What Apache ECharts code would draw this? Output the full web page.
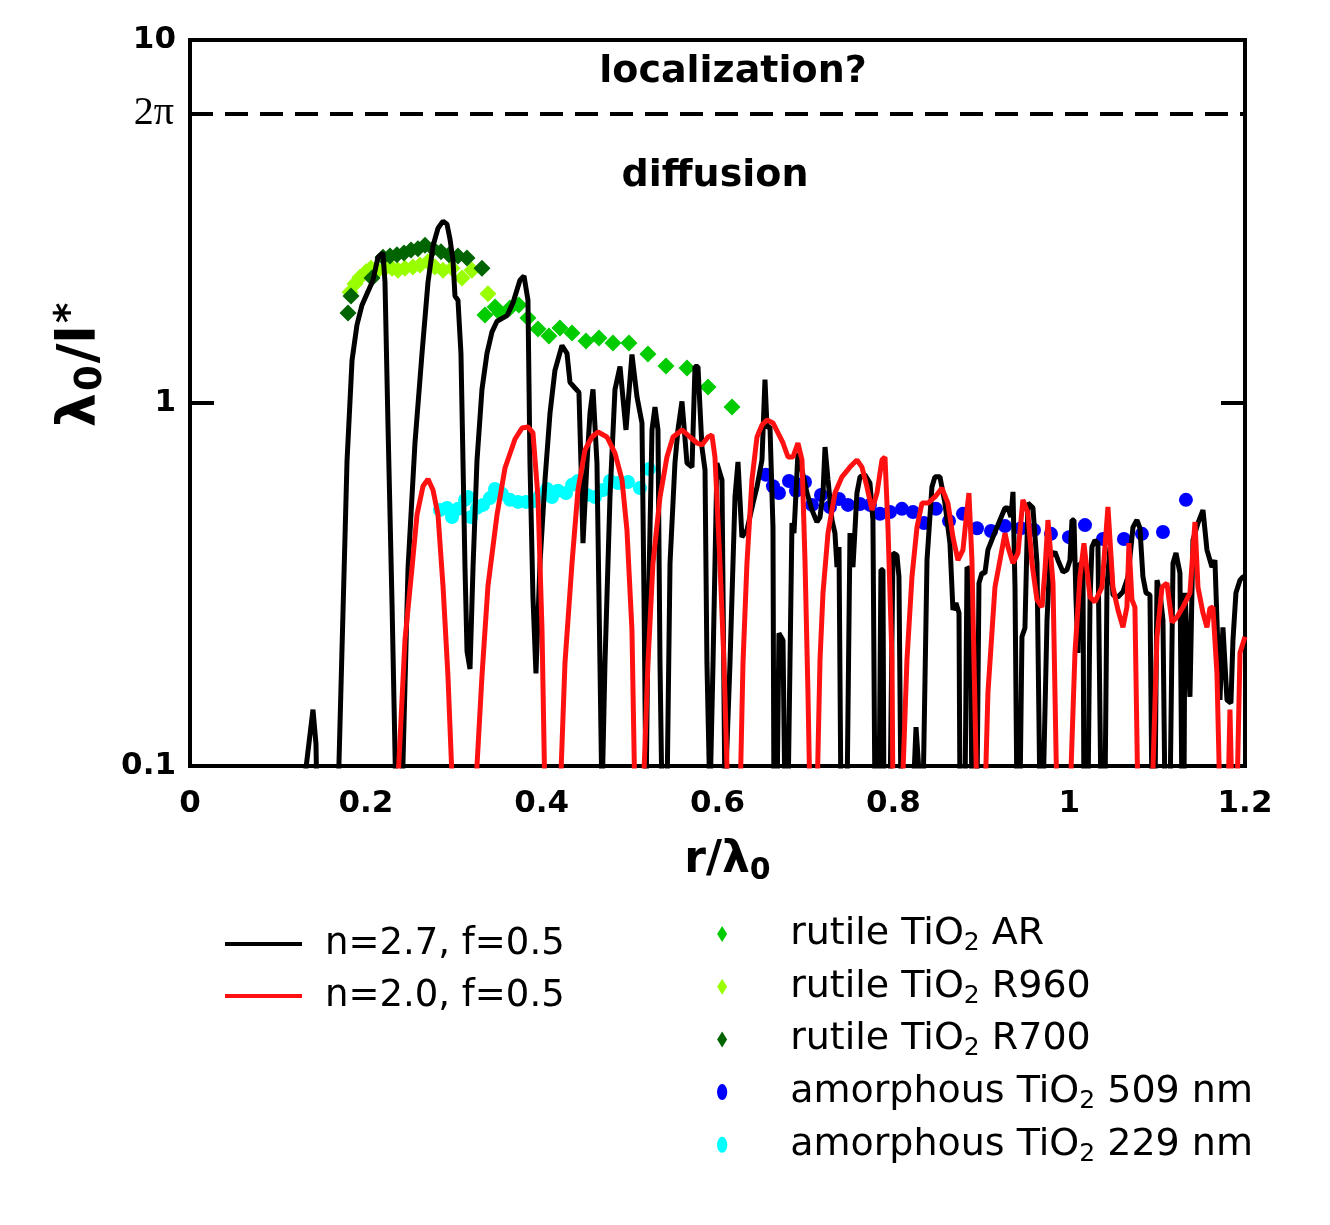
<!DOCTYPE html>
<html>
<head>
<meta charset="utf-8">
<script src="https://cdn.jsdelivr.net/npm/echarts@6/dist/echarts.min.js"></script>
<style>html,body{margin:0;padding:0;background:#fff}#c{width:1330px;height:1225px}</style>
</head>
<body>
<div id="c"></div>
<script>
// ---- data (x = r/lambda0, y = lambda0/l*) ; 0.08 = below the 0.1 axis floor ----
const xTicks = [0, 0.2, 0.4, 0.6, 0.8, 1, 1.2];
const yTicks = [0.1, 1, 10];
const twoPi = 2 * Math.PI;

const n27 = [[0,0.08],[0.1274,0.08],[0.1399,0.143],[0.1433,0.115],[0.1444,0.08],[0.1683,0.08],[0.1786,0.692],[0.1843,1.31],[0.1899,1.64],[0.1956,1.86],[0.2025,2.03],[0.2081,2.18],[0.2138,2.52],[0.2195,2.59],[0.2218,2.15],[0.2252,0.870],[0.2298,0.280],[0.2343,0.08],[0.2411,0.08],[0.2480,0.351],[0.2559,0.776],[0.2639,1.37],[0.2707,2.15],[0.2764,2.71],[0.2821,3.03],[0.2878,3.17],[0.2923,3.11],[0.2957,2.83],[0.2991,2.48],[0.3014,1.97],[0.3048,1.92],[0.3082,1.37],[0.3105,0.692],[0.3128,0.351],[0.3151,0.207],[0.3185,0.185],[0.3219,0.351],[0.3264,0.692],[0.3321,1.09],[0.3378,1.37],[0.3435,1.57],[0.3492,1.68],[0.3606,1.74],[0.3674,1.89],[0.3753,2.18],[0.3799,2.24],[0.3844,1.92],[0.3867,0.683],[0.3901,0.292],[0.3935,0.18],[0.3981,0.362],[0.4038,0.614],[0.4095,0.939],[0.4151,1.23],[0.4231,1.44],[0.4288,1.37],[0.4322,1.14],[0.4379,1.10],[0.4424,1.07],[0.4447,0.683],[0.4470,0.411],[0.4515,0.683],[0.4550,0.939],[0.4584,1.09],[0.4629,0.683],[0.4663,0.192],[0.4686,0.08],[0.4720,0.192],[0.4777,0.551],[0.4834,1.09],[0.4891,1.26],[0.4959,0.843],[0.5027,1.36],[0.5084,1.04],[0.5141,0.881],[0.5164,0.292],[0.5187,0.08],[0.5209,0.237],[0.5255,0.843],[0.5289,0.975],[0.5323,0.843],[0.5346,0.192],[0.5369,0.08],[0.5425,0.08],[0.5460,0.362],[0.5516,0.683],[0.5550,0.843],[0.5596,1.01],[0.5653,0.683],[0.5710,0.666],[0.5744,1.26],[0.5778,1.26],[0.5823,0.756],[0.5858,0.654],[0.5880,0.192],[0.5914,0.08],[0.5949,0.192],[0.5994,0.683],[0.6051,0.614],[0.6085,0.08],[0.6142,0.192],[0.6199,0.551],[0.6233,0.688],[0.6278,0.427],[0.6335,0.447],[0.6404,0.530],[0.6449,0.587],[0.6506,0.697],[0.6540,1.16],[0.6563,0.859],[0.6597,0.859],[0.6631,0.455],[0.6642,0.08],[0.6677,0.08],[0.6699,0.232],[0.6745,0.222],[0.6767,0.08],[0.6802,0.08],[0.6847,0.467],[0.6870,0.438],[0.6915,0.728],[0.6961,0.654],[0.7018,0.565],[0.7075,0.507],[0.7131,0.470],[0.7166,0.485],[0.7200,0.565],[0.7223,0.756],[0.7257,0.614],[0.7302,0.476],[0.7336,0.438],[0.7359,0.353],[0.7382,0.401],[0.7404,0.08],[0.7473,0.08],[0.7507,0.438],[0.7541,0.353],[0.7586,0.565],[0.7621,0.626],[0.7677,0.634],[0.7734,0.602],[0.7768,0.476],[0.7791,0.08],[0.7837,0.08],[0.7859,0.347],[0.7882,0.347],[0.7893,0.08],[0.7962,0.08],[0.7996,0.386],[0.8041,0.381],[0.8064,0.332],[0.8087,0.08],[0.8223,0.08],[0.8258,0.128],[0.8280,0.128],[0.8314,0.08],[0.8337,0.08],[0.8383,0.369],[0.8439,0.587],[0.8473,0.626],[0.8530,0.626],[0.8587,0.530],[0.8644,0.411],[0.8678,0.269],[0.8712,0.281],[0.8747,0.264],[0.8758,0.08],[0.8815,0.08],[0.8838,0.353],[0.8872,0.347],[0.8894,0.08],[0.8951,0.08],[0.8974,0.319],[0.9008,0.340],[0.9042,0.340],[0.9076,0.394],[0.9133,0.427],[0.9213,0.476],[0.9270,0.514],[0.9304,0.514],[0.9338,0.485],[0.9361,0.569],[0.9384,0.311],[0.9406,0.08],[0.9440,0.08],[0.9463,0.227],[0.9497,0.240],[0.9531,0.530],[0.9588,0.514],[0.9634,0.362],[0.9668,0.08],[0.9702,0.08],[0.9748,0.252],[0.9782,0.376],[0.9838,0.389],[0.9873,0.369],[0.9930,0.342],[0.9975,0.347],[1.0009,0.369],[1.0032,0.476],[1.0055,0.476],[1.0077,0.292],[1.0100,0.205],[1.0123,0.362],[1.0157,0.362],[1.0168,0.08],[1.0214,0.08],[1.0237,0.287],[1.0259,0.401],[1.0293,0.419],[1.0327,0.411],[1.0362,0.08],[1.0407,0.08],[1.0430,0.311],[1.0464,0.401],[1.0498,0.296],[1.0555,0.292],[1.0612,0.302],[1.0669,0.332],[1.0726,0.455],[1.0771,0.476],[1.0805,0.452],[1.0839,0.332],[1.0874,0.300],[1.0919,0.296],[1.0942,0.08],[1.0976,0.08],[1.0999,0.325],[1.1033,0.300],[1.1067,0.252],[1.1090,0.08],[1.1147,0.08],[1.1181,0.362],[1.1215,0.386],[1.1260,0.340],[1.1283,0.08],[1.1306,0.08],[1.1317,0.300],[1.1374,0.155],[1.1408,0.419],[1.1465,0.467],[1.1522,0.507],[1.1567,0.394],[1.1624,0.353],[1.1658,0.369],[1.1681,0.252],[1.1715,0.152],[1.1749,0.241],[1.1795,0.152],[1.1840,0.149],[1.1863,0.222],[1.1897,0.300],[1.1943,0.325],[1.1977,0.332],[1.2,0.332]];

const n20 = [[0,0.08],[0.2354,0.08],[0.2445,0.222],[0.2525,0.351],[0.2582,0.492],[0.2650,0.590],[0.2707,0.617],[0.2764,0.576],[0.2821,0.492],[0.2878,0.313],[0.2934,0.177],[0.2991,0.08],[0.3242,0.08],[0.3321,0.177],[0.3389,0.313],[0.3492,0.492],[0.3583,0.662],[0.3697,0.796],[0.3776,0.853],[0.3844,0.859],[0.3901,0.827],[0.3958,0.551],[0.4004,0.237],[0.4038,0.08],[0.4208,0.08],[0.4265,0.192],[0.4345,0.362],[0.4413,0.576],[0.4493,0.742],[0.4572,0.806],[0.4641,0.832],[0.4743,0.806],[0.4834,0.728],[0.4914,0.614],[0.4970,0.447],[0.5027,0.237],[0.5061,0.08],[0.5152,0.08],[0.5209,0.192],[0.5266,0.362],[0.5346,0.551],[0.5425,0.710],[0.5494,0.806],[0.5596,0.843],[0.5687,0.806],[0.5767,0.776],[0.5823,0.766],[0.5892,0.806],[0.5937,0.816],[0.5971,0.710],[0.6028,0.362],[0.6074,0.192],[0.6119,0.08],[0.6256,0.08],[0.6290,0.192],[0.6335,0.362],[0.6392,0.614],[0.6449,0.806],[0.6506,0.870],[0.6563,0.898],[0.6631,0.881],[0.6688,0.827],[0.6745,0.776],[0.6802,0.710],[0.6858,0.710],[0.6915,0.776],[0.6961,0.697],[0.6995,0.369],[0.7029,0.159],[0.7052,0.08],[0.7131,0.08],[0.7166,0.196],[0.7200,0.300],[0.7257,0.438],[0.7336,0.565],[0.7416,0.626],[0.7507,0.666],[0.7586,0.697],[0.7643,0.666],[0.7700,0.587],[0.7757,0.507],[0.7814,0.565],[0.7871,0.697],[0.7905,0.710],[0.7939,0.455],[0.7985,0.196],[0.7996,0.08],[0.8098,0.08],[0.8155,0.196],[0.8212,0.332],[0.8269,0.455],[0.8326,0.530],[0.8394,0.530],[0.8474,0.551],[0.8553,0.583],[0.8621,0.530],[0.8678,0.427],[0.8735,0.369],[0.8792,0.394],[0.8838,0.507],[0.8860,0.565],[0.8894,0.369],[0.8917,0.196],[0.8951,0.08],[0.9042,0.08],[0.9076,0.159],[0.9156,0.311],[0.9213,0.369],[0.9270,0.438],[0.9304,0.401],[0.9361,0.362],[0.9418,0.386],[0.9474,0.541],[0.9531,0.498],[0.9577,0.362],[0.9634,0.287],[0.9691,0.274],[0.9725,0.347],[0.9759,0.476],[0.9816,0.319],[0.9861,0.08],[1.0009,0.08],[1.0066,0.205],[1.0123,0.332],[1.0168,0.411],[1.0237,0.292],[1.0293,0.283],[1.0373,0.311],[1.0441,0.517],[1.0498,0.311],[1.0555,0.269],[1.0612,0.241],[1.0657,0.274],[1.0680,0.411],[1.0714,0.287],[1.0748,0.274],[1.0782,0.08],[1.0942,0.08],[1.0999,0.227],[1.1056,0.311],[1.1112,0.319],[1.1169,0.249],[1.1226,0.257],[1.1294,0.274],[1.1374,0.300],[1.1431,0.470],[1.1465,0.311],[1.1522,0.264],[1.1567,0.241],[1.1601,0.272],[1.1635,0.274],[1.1681,0.180],[1.1715,0.08],[1.1806,0.08],[1.1829,0.143],[1.1852,0.08],[1.1908,0.08],[1.1943,0.205],[1.2,0.227]];

const rutileAR = [[0.3355,1.747],[0.347,1.839],[0.3526,1.77],[0.364,1.827],[0.374,1.862],[0.3844,1.715],[0.3958,1.599],[0.4083,1.530],[0.4208,1.609],[0.4345,1.559],[0.4504,1.482],[0.4652,1.510],[0.4811,1.463],[0.4993,1.463],[0.5209,1.365],[0.5414,1.264],[0.5653,1.249],[0.5892,1.107],[0.6165,0.975]];

const rutileR960 = [[0.1820,2.02],[0.1877,2.13],[0.1934,2.22],[0.2002,2.30],[0.2059,2.35],[0.2138,2.32],[0.2218,2.35],[0.2298,2.35],[0.2366,2.32],[0.2445,2.35],[0.2536,2.37],[0.2616,2.40],[0.2707,2.45],[0.2787,2.37],[0.2878,2.32],[0.2980,2.35],[0.3094,2.21],[0.3207,2.32],[0.3389,2.00]];

const rutileR700 = [[0.1797,1.77],[0.1831,1.97],[0.2070,2.21],[0.2195,2.52],[0.2275,2.54],[0.2354,2.56],[0.2434,2.59],[0.2514,2.64],[0.2593,2.66],[0.2673,2.72],[0.2764,2.66],[0.2855,2.61],[0.2946,2.56],[0.3048,2.54],[0.3151,2.51],[0.3321,2.35]];

const amorph509 = [[0.6551,0.634],[0.6631,0.590],[0.6699,0.565],[0.6813,0.610],[0.6893,0.573],[0.6995,0.606],[0.7075,0.524],[0.7177,0.558],[0.7279,0.517],[0.7382,0.544],[0.7484,0.524],[0.7620,0.527],[0.7734,0.524],[0.7848,0.495],[0.7962,0.501],[0.8098,0.511],[0.8223,0.501],[0.8348,0.467],[0.8485,0.511],[0.8633,0.473],[0.8792,0.495],[0.8951,0.452],[0.9111,0.444],[0.9270,0.458],[0.9452,0.452],[0.9600,0.447],[0.9793,0.436],[0.9998,0.427],[1.0180,0.461],[1.0384,0.422],[1.0623,0.422],[1.0828,0.436],[1.1067,0.441],[1.1328,0.541]];

const amorph229 = [[0.2843,0.507],[0.2923,0.514],[0.2980,0.485],[0.3048,0.511],[0.3128,0.541],[0.3162,0.551],[0.3196,0.485],[0.3264,0.514],[0.3333,0.524],[0.3412,0.547],[0.3469,0.580],[0.3549,0.562],[0.3640,0.541],[0.3731,0.534],[0.3822,0.534],[0.3913,0.537],[0.3981,0.555],[0.4061,0.580],[0.4117,0.551],[0.4186,0.573],[0.4277,0.565],[0.4345,0.595],[0.4413,0.610],[0.4515,0.558],[0.4606,0.551],[0.4697,0.576],[0.4777,0.610],[0.4868,0.602],[0.4982,0.606],[0.5118,0.583],[0.5220,0.658]];

const lineNames = ['n=2.7, f=0.5', 'n=2.0, f=0.5'];
const markerNames = ['rutile TiO2 AR', 'rutile TiO2 R960', 'rutile TiO2 R700', 'amorphous TiO2 509 nm', 'amorphous TiO2 229 nm'];

// ---- chart ----
const chart = echarts.init(document.getElementById('c'), null, {renderer: 'canvas'});
const SANS = '"DejaVu Sans", Verdana, sans-serif';
const tickFont = {fontFamily: SANS, fontWeight: 'bold', fontSize: 31, color: '#000'};
const legendText = {fontFamily: SANS, fontSize: 37, color: '#000', lineHeight: 44};

const diamondIcon = 'path://M5,0L10,8L5,16L0,8Z';
const ellipseIcon = 'path://M0,7A4.5,7 0 1,0 9,7A4.5,7 0 1,0 0,7Z';
const lineIcon = 'path://M0,0H77V4H0Z';

const option = {
  animation: false,
  backgroundColor: '#fff',
  grid: {left: 190, right: 85, top: 40, bottom: 459, show: true, borderColor: '#000', borderWidth: 4, backgroundColor: 'transparent'},
  xAxis: {
    type: 'value', min: xTicks[0], max: xTicks[xTicks.length - 1], interval: 0.2,
    axisLine: {show: true, lineStyle: {color: '#000', width: 4}},
    axisTick: {show: false},
    splitLine: {show: false},
    axisLabel: Object.assign({margin: 22, formatter: v => String(+v.toFixed(1))}, tickFont),
    name: '{a|r/λ}{s|0}', nameLocation: 'middle', nameGap: 70,
    nameTextStyle: {
      padding: [0, 0, 0, 20],
      rich: {
        a: {fontFamily: SANS, fontWeight: 'bold', fontSize: 44, color: '#000', lineHeight: 50},
        s: {fontFamily: SANS, fontWeight: 'bold', fontSize: 30, color: '#000', lineHeight: 24, verticalAlign: 'bottom'}
      }
    }
  },
  yAxis: [{
    type: 'log', logBase: 10, min: yTicks[0], max: yTicks[yTicks.length - 1],
    axisLine: {show: true, lineStyle: {color: '#000', width: 4}},
    axisTick: {show: true, inside: true, length: 24, lineStyle: {color: '#000', width: 4}},
    minorTick: {show: false},
    splitLine: {show: false},
    axisLabel: Object.assign({margin: 14}, tickFont),
    name: '{a|λ}{s|0}{a|/l}{p|*}', nameLocation: 'middle', nameRotate: 90, nameGap: 60,
    nameTextStyle: {
      padding: [0, 0, 0, 76],
      rich: {
        a: {fontFamily: SANS, fontWeight: 'bold', fontSize: 54, color: '#000', lineHeight: 58},
        s: {fontFamily: SANS, fontWeight: 'bold', fontSize: 37, color: '#000', lineHeight: 28, verticalAlign: 'bottom', padding: [0, 2, 0, 2]},
        p: {fontFamily: SANS, fontWeight: 'bold', fontSize: 39, color: '#000', lineHeight: 28, verticalAlign: 'top', padding: [0, 0, 0, 2]}
      }
    }
  }, {
    type: 'log', logBase: 10, min: yTicks[0], max: yTicks[yTicks.length - 1], position: 'right',
    axisLine: {show: true, lineStyle: {color: '#000', width: 4}},
    axisTick: {show: true, inside: true, length: 24, lineStyle: {color: '#000', width: 4}},
    axisLabel: {show: false}, splitLine: {show: false}
  }],
  legend: [{
    orient: 'vertical', left: 220, top: 917, itemWidth: 77, itemHeight: 14, itemGap: 8,
    data: lineNames.map(n => ({name: n, icon: lineIcon})),
    textStyle: Object.assign({padding: [0, 0, 0, 18]}, legendText),
    selectedMode: false
  }, {
    orient: 'vertical', left: 712, top: 907, itemWidth: 20, itemHeight: 16, itemGap: 8.7,
    data: markerNames.map((n, i) => ({name: n, icon: i < 3 ? diamondIcon : ellipseIcon})),
    formatter: name => name.replace('TiO2', 'TiO{s|2}'),
    textStyle: Object.assign({padding: [0, 0, 0, 53],
      rich: {s: {fontFamily: SANS, fontSize: 25, color: '#000', lineHeight: 20, verticalAlign: 'bottom'}}},
      legendText, {fontSize: 38}),
    selectedMode: false
  }],
  graphic: [
    {type: 'text', x: 733, y: 72, style: {text: 'localization?', font: 'bold 38px ' + SANS, fill: '#000', align: 'center', verticalAlign: 'middle'}},
    {type: 'text', x: 715, y: 176, style: {text: 'diffusion', font: 'bold 38px ' + SANS, fill: '#000', align: 'center', verticalAlign: 'middle'}}
  ],
  series: [
    {name: lineNames[0], type: 'line', data: n27, showSymbol: false, symbol: 'none', clip: true,
     lineStyle: {color: '#000', width: 5}, itemStyle: {color: '#000'},
     markLine: {silent: true, symbol: 'none', animation: false,
       lineStyle: {color: '#000', width: 4, type: [23, 12]},
       label: {position: 'start', formatter: '2π', fontFamily: '"Liberation Serif", "Times New Roman", serif', fontSize: 40, color: '#000', distance: 16},
       data: [{yAxis: twoPi}]}},
    {name: lineNames[1], type: 'line', data: n20, showSymbol: false, symbol: 'none', clip: true,
     lineStyle: {color: '#ff1111', width: 5}, itemStyle: {color: '#ff1111'}},
    {name: markerNames[1], type: 'scatter', data: rutileR960, symbol: 'diamond', symbolSize: 17, itemStyle: {color: '#99ff00', opacity: 1}},
    {name: markerNames[2], type: 'scatter', data: rutileR700, symbol: 'diamond', symbolSize: 17, itemStyle: {color: '#006400', opacity: 1}},
    {name: markerNames[0], type: 'scatter', data: rutileAR, symbol: 'diamond', symbolSize: 17, itemStyle: {color: '#00cc00', opacity: 1}},
    {name: markerNames[3], type: 'scatter', data: amorph509, symbol: 'circle', symbolSize: 14, itemStyle: {color: '#0000ff', opacity: 1}},
    {name: markerNames[4], type: 'scatter', data: amorph229, symbol: 'circle', symbolSize: 14, itemStyle: {color: '#00ffff', opacity: 1}}
  ]
};
chart.setOption(option);
</script>
</body>
</html>
